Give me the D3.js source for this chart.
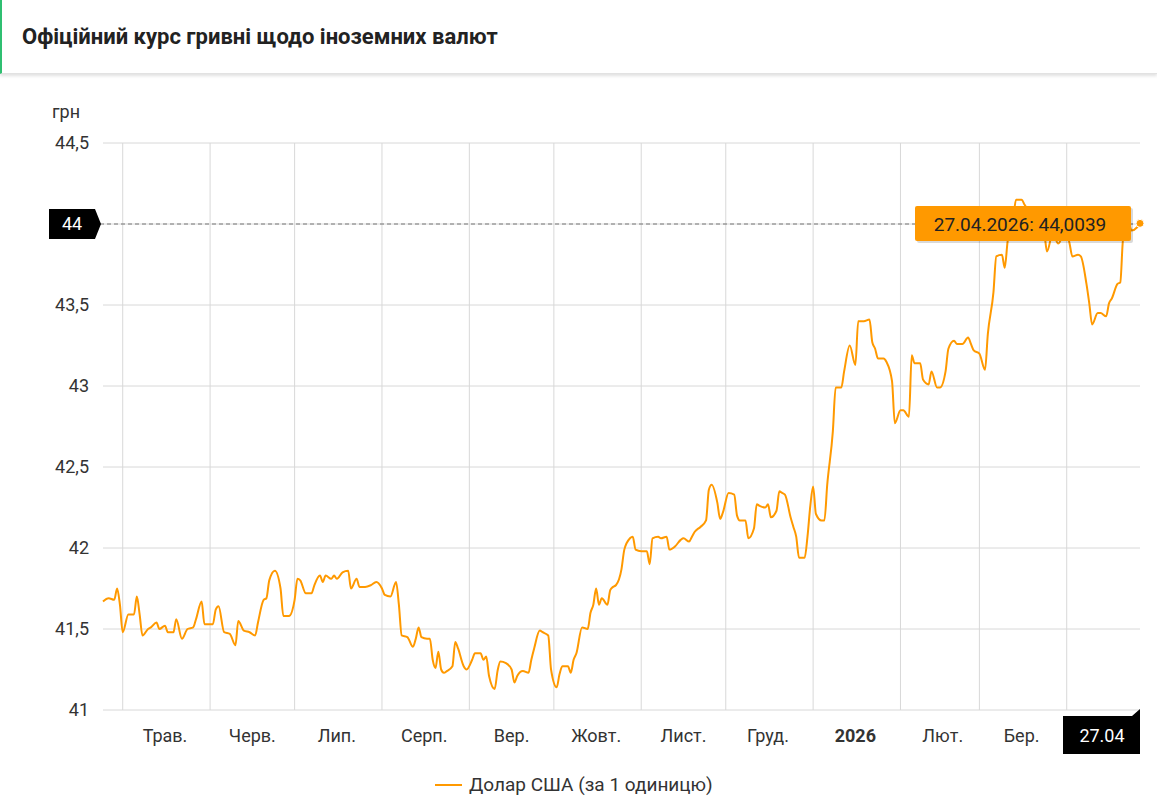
<!DOCTYPE html>
<html>
<head>
<meta charset="utf-8">
<script src="https://cdn.jsdelivr.net/npm/d3@7"></script>
<style>
  body { margin: 0; background: #fff; font-family: Roboto, "Noto Sans", sans-serif; }
  .header { height: 73px; border-left: 2px solid #2fbf71; box-shadow: 0 2px 3px rgba(0,0,0,0.12); border-bottom: 1px solid #e2e2e2; }
  .header h1 { margin: 0; padding: 24px 0 0 20px; font-size: 22px; font-weight: 700; color: #222; }
</style>
</head>
<body>
<div class="header"><h1>Офіційний курс гривні щодо іноземних валют</h1></div>
<svg id="chart" width="1157" height="729"></svg>
<script>
// days since 2025-04-24 and official USD rate
const startDate = new Date(2025, 3, 24);
const days = [0,2,4,5,6,7,9,11,12,13,14,16,17,19,20,22,23,25,26,28,30,32,33,35,36,39,40,41,43,45,47,48,50,52,54,55,57,58,59,61,63,64,66,68,69,70,72,74,75,77,78,79,81,82,83,85,87,88,90,91,93,95,97,99,100,102,104,105,106,108,110,111,112,113,115,116,117,118,119,120,121,122,124,125,126,128,129,131,132,134,135,136,137,139,140,141,143,145,146,147,149,151,152,153,155,156,158,159,161,162,163,165,166,167,168,170,172,173,174,175,176,177,179,180,181,182,184,185,187,188,189,191,193,194,195,197,198,200,201,203,205,206,208,209,210,212,214,215,216,218,219,220,222,224,225,226,228,229,231,232,233,235,236,237,239,240,241,242,244,245,246,247,249,250,251,252,253,255,256,257,259,260,262,263,265,267,268,270,272,273,274,275,277,278,280,281,283,284,286,287,288,290,291,293,294,296,297,299,300,302,303,305,307,308,309,311,313,314,316,317,319,320,321,323,324,326,327,329,330,332,334,335,337,339,340,341,343,344,346,347,349,350,351,353,354,356,357,358,360,361,362,364,365,367,368];
const usd = [41.67,41.69,41.68,41.75,41.65,41.48,41.59,41.59,41.70,41.59,41.46,41.50,41.51,41.54,41.50,41.52,41.48,41.48,41.56,41.44,41.50,41.51,41.56,41.67,41.53,41.53,41.62,41.64,41.48,41.47,41.40,41.55,41.49,41.48,41.46,41.54,41.68,41.69,41.80,41.86,41.75,41.58,41.58,41.68,41.81,41.80,41.72,41.72,41.77,41.83,41.79,41.83,41.81,41.83,41.81,41.85,41.86,41.75,41.81,41.76,41.76,41.77,41.79,41.75,41.71,41.70,41.79,41.65,41.46,41.45,41.39,41.44,41.51,41.45,41.44,41.44,41.31,41.26,41.36,41.25,41.23,41.24,41.27,41.42,41.38,41.27,41.25,41.31,41.35,41.35,41.31,41.33,41.21,41.13,41.24,41.30,41.29,41.25,41.17,41.21,41.24,41.23,41.31,41.38,41.49,41.48,41.46,41.25,41.14,41.22,41.27,41.27,41.23,41.31,41.35,41.51,41.50,41.60,41.65,41.75,41.65,41.69,41.65,41.74,41.76,41.77,41.87,41.99,42.06,42.07,41.99,41.98,41.98,41.90,42.06,42.07,42.06,42.07,41.99,42.01,42.05,42.06,42.04,42.07,42.10,42.13,42.17,42.36,42.39,42.28,42.18,42.22,42.34,42.33,42.20,42.17,42.17,42.06,42.12,42.27,42.26,42.25,42.27,42.19,42.23,42.35,42.34,42.33,42.19,42.13,42.07,41.94,41.94,42.07,42.26,42.38,42.21,42.17,42.17,42.39,42.72,42.99,42.99,43.09,43.25,43.13,43.40,43.40,43.41,43.27,43.23,43.17,43.17,43.15,43.03,42.77,42.85,42.85,42.81,43.19,43.14,43.14,43.04,43.01,43.09,42.99,42.99,43.09,43.23,43.28,43.26,43.26,43.30,43.26,43.22,43.20,43.10,43.32,43.58,43.80,43.81,43.73,43.89,44.03,44.15,44.15,44.12,44.06,44.00,43.97,43.94,43.83,43.94,43.88,43.91,44.00,43.88,43.80,43.81,43.80,43.63,43.51,43.38,43.45,43.45,43.43,43.51,43.54,43.63,43.64,43.91,44.00,43.96,43.98,44.0039];
const yTicks = [41, 41.5, 42, 42.5, 43, 43.5, 44.5];
const monthLabels = ["Трав.", "Черв.", "Лип.", "Серп.", "Вер.", "Жовт.", "Лист.", "Груд.", "2026", "Лют.", "Бер."];
const lastLabel = "27.04";
const tooltipText = "27.04.2026: 44,0039";
const crossValue = 44;
const legendText = "Долар США (за 1 одиницю)";

const off = 75; // svg top offset on page
const fs = 18;
const svg = d3.select("#chart");
const orange = "#ff9900";
const dayMs = 86400000;
const dates = days.map(d => new Date(startDate.getTime() + d * dayMs));
const endDate = dates[dates.length - 1];

const x = d3.scaleTime().domain([startDate, endDate]).range([103, 1140]);
const y = d3.scaleLinear().domain([41, 44.5]).range([711 - off, 144 - off]);

const months = d3.timeMonth.range(new Date(2025, 4, 1), endDate);

// grid
svg.append("g").selectAll("line").data(yTicks.concat([44])).join("line")
  .attr("x1", 103).attr("x2", 1140)
  .attr("y1", d => y(d)).attr("y2", d => y(d))
  .attr("stroke", "#d8d8d8");
svg.append("g").selectAll("line").data(months).join("line")
  .attr("x1", d => x(d)).attr("x2", d => x(d))
  .attr("y1", y(44.5)).attr("y2", y(41))
  .attr("stroke", "#d8d8d8");

// y labels
svg.append("g").selectAll("text").data(yTicks).join("text")
  .attr("x", 89).attr("y", d => y(d) + 6)
  .attr("text-anchor", "end").attr("font-size", fs).attr("fill", "#333")
  .text(d => String(d).replace(".", ","));
svg.append("text").attr("x", 52).attr("y", 119 - off)
  .attr("font-size", fs).attr("fill", "#333").text("грн");

// x labels
svg.append("g").selectAll("text").data(months.slice(0, monthLabels.length)).join("text")
  .attr("x", d => x(d3.timeDay.offset(d, 15)))
  .attr("y", 743 - off)
  .attr("text-anchor", "middle").attr("font-size", fs).attr("fill", "#333")
  .attr("font-weight", (d, i) => monthLabels[i] === "2026" ? 700 : 400)
  .text((d, i) => monthLabels[i]);

// crosshair line
svg.append("line").attr("x1", 100).attr("x2", 1140)
  .attr("y1", y(crossValue)).attr("y2", y(crossValue))
  .attr("stroke", "#777").attr("stroke-dasharray", "4,3");

// series
svg.append("path").datum(usd)
  .attr("fill", "none").attr("stroke", orange).attr("stroke-width", 2)
  .attr("stroke-linejoin", "round")
  .attr("d", d3.line().x((d, i) => x(dates[i])).y(d => y(d)).curve(d3.curveMonotoneX));

svg.append("circle").attr("cx", x(endDate)).attr("cy", y(usd[usd.length - 1]))
  .attr("r", 4).attr("fill", orange).attr("stroke", "#fff").attr("stroke-width", 1);

// y crosshair label
const cy = y(crossValue);
svg.append("path")
  .attr("d", `M49,${cy - 15}H95L101,${cy}L95,${cy + 15}H49Z`).attr("fill", "#000");
svg.append("text").attr("x", 72).attr("y", cy + 6).attr("text-anchor", "middle")
  .attr("font-size", fs).attr("fill", "#fff").text(String(crossValue));

// x crosshair label
const ex = x(endDate);
svg.append("path")
  .attr("d", `M${ex - 77},${717 - off}H${ex - 8}L${ex},${710 - off}V${755 - off}H${ex - 77}Z`).attr("fill", "#000");
svg.append("text").attr("x", ex - 38).attr("y", 743 - off).attr("text-anchor", "middle")
  .attr("font-size", fs).attr("fill", "#fff").text(lastLabel);

// tooltip
const tg = svg.append("g");
tg.append("rect").attr("x", 917).attr("y", 209 - off).attr("width", 216).attr("height", 35)
  .attr("fill", "rgba(0,0,0,0.15)").attr("rx", 2);
tg.append("rect").attr("x", 915).attr("y", 207 - off).attr("width", 216).attr("height", 35)
  .attr("fill", orange).attr("rx", 2);
tg.append("text").attr("x", 1020).attr("y", 232 - off).attr("text-anchor", "middle")
  .attr("font-size", 19).attr("fill", "#222").text(tooltipText);

// legend
svg.append("line").attr("x1", 435).attr("x2", 462).attr("y1", 786 - off).attr("y2", 786 - off)
  .attr("stroke", orange).attr("stroke-width", 2);
svg.append("text").attr("x", 469).attr("y", 792 - off).attr("font-size", 19).attr("fill", "#333")
  .text(legendText);
</script>
</body>
</html>
